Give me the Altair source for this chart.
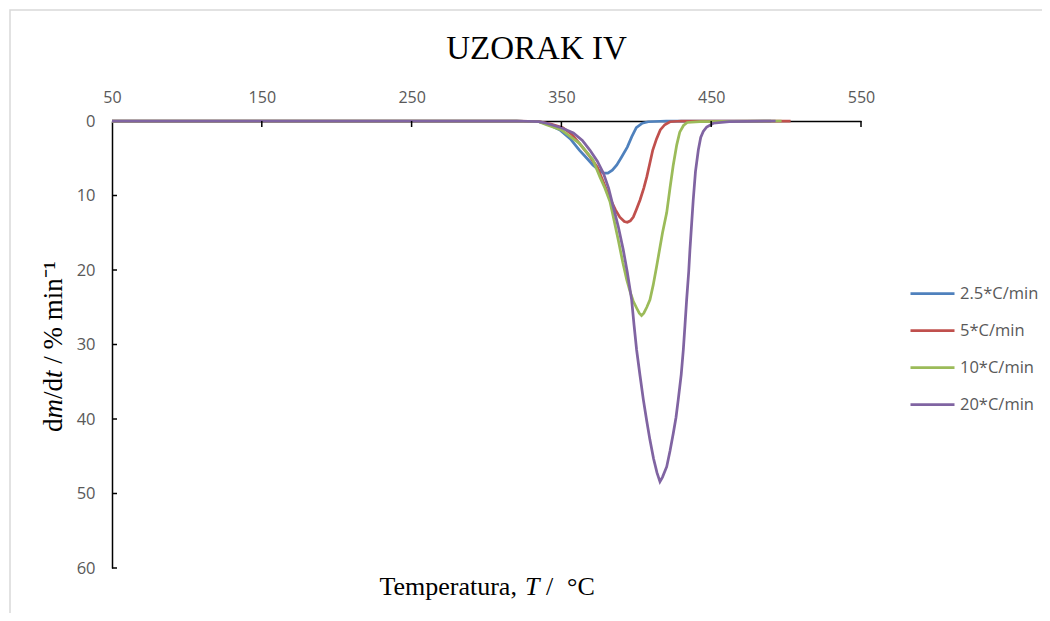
import altair as alt
import pandas as pd

series_names = ["2.5*C/min", "5*C/min", "10*C/min", "20*C/min"]
series_colors = ["#4F81BD", "#C0504D", "#9BBB59", "#8064A2"]

t_25 = [50, 150, 250, 320, 335, 342, 349, 356, 362, 367, 371, 375, 378, 381, 384, 387, 390, 394, 397, 400,
        404, 408, 420, 490]
v_25 = [0, 0, 0, 0, 0.1, 0.5, 1.2, 2.4, 3.9, 5.0, 5.9, 6.6, 7.0, 7.0, 6.6, 5.9, 4.9, 3.5, 2.1, 0.9,
        0.3, 0.1, 0, 0]

t_5 = [50, 150, 250, 320, 335, 343, 351, 357, 362, 368, 374, 378, 382, 386, 389, 392, 394, 396, 398, 400,
       402.5, 405, 407, 409, 411, 413.5, 416, 419, 422.5, 430, 503]
v_5 = [0, 0, 0, 0, 0.1, 0.4, 0.9, 1.8, 3.0, 4.5, 6.2, 8.2, 10.2, 11.9, 12.9, 13.5, 13.6, 13.4, 12.9, 11.9,
       10.6, 9.0, 7.5, 5.7, 3.9, 2.4, 1.2, 0.5, 0.1, 0, 0]

t_10 = [50, 150, 250, 320, 335, 340, 350, 362, 371, 375.7, 379, 382.4, 384.6, 388, 391, 393.6, 396, 398, 400.2, 402,
        403.5, 405, 407, 409.1, 411.3, 413.5, 417.5, 420.3, 422.5, 424.6, 427, 429, 431.5, 434, 442.5, 497]
v_10 = [0, 0, 0, 0, 0.1, 0.5, 1.2, 3.0, 5.2, 7.5, 9.0, 10.8, 12.8, 16.0, 19.0, 21.3, 23.0, 24.2, 25.1, 25.8,
        26.1, 25.8, 25.0, 24.0, 22.0, 19.6, 15.0, 12.3, 9.0, 6.0, 3.2, 1.5, 0.6, 0.2, 0.1, 0]

t_20 = [50, 150, 250, 320, 335, 340, 350, 358, 364, 369, 374, 378, 381.5, 384.6, 388, 391.3, 394, 396.9, 398.5, 400.2,
        402.5, 404.7, 407, 409.1, 411.5, 413.8, 415.8, 417.5, 420.3, 422.5, 424.7, 426.5, 428, 430, 431.4, 432.5,
        433.6, 435, 435.8, 437, 438, 439.5, 441.4, 443, 444.7, 447, 451.4, 462, 493]
v_20 = [0, 0, 0, 0, 0.1, 0.3, 0.9, 1.6, 2.6, 3.9, 5.4, 7.0, 9.0, 11.5, 14.2, 17.3, 20.3, 24.0, 27.4, 30.7,
        34.2, 37.4, 40.3, 42.8, 45.3, 47.2, 48.4, 47.8, 46.4, 44.3, 41.9, 39.8, 37.4, 34.0, 30.7, 27.4,
        24.0, 20.2, 17.3, 13.6, 10.6, 6.8, 3.9, 2.2, 1.4, 0.8, 0.3, 0.1, 0]

x_ticks = [50, 150, 250, 350, 450, 550]
y_ticks = [0, 10, 20, 30, 40, 50, 60]
x_tick_marks = [150, 250, 350, 450, 550]
y_tick_marks = [10, 20, 30, 40, 50, 60]

chart_title = "UZORAK IV"
# axis titles split into (text, italic) pieces: "Temperatura, T /  °C" and "dm/dt / % min⁻¹"
x_title_parts = [("Temperatura,", False), ("T", True), ("/", False), ("°C", False)]
y_title_parts = [("d", False), ("m", True), ("/d", False), ("t", True), ("/ % min⁻¹", False)]

rows = []
for name, ts, vs in zip(series_names, [t_25, t_5, t_10, t_20], [v_25, v_5, v_10, v_20]):
    for i, (t, v) in enumerate(zip(ts, vs)):
        rows.append({"series": name, "T": t, "v": v, "idx": i})
df = pd.DataFrame(rows)

W, H = 749, 447
GRAY = "#595959"
SERIF = "Liberation Serif"

x_scale = alt.Scale(domain=[50, 550], nice=False, zero=False)
y_scale = alt.Scale(domain=[0, 60], reverse=True, nice=False, zero=False)

x_axis = alt.Axis(orient="top", values=x_ticks, title=None, ticks=False, grid=False,
                  domainColor="black", domainWidth=1.5, labelFont="Open Sans", labelFontSize=16,
                  labelColor=GRAY, labelPadding=15.5, labelFlush=False)
y_axis = alt.Axis(orient="left", values=y_ticks, title=None, ticks=False, grid=False,
                  domainColor="black", domainWidth=1.5, labelFont="Open Sans", labelFontSize=16.5,
                  labelColor=GRAY, labelPadding=17, labelFlush=False)

x_enc = alt.X("T:Q", scale=x_scale, axis=x_axis)
y_enc = alt.Y("v:Q", scale=y_scale, axis=y_axis)

one = pd.DataFrame({"a": [0]})

frame = alt.Chart(one).mark_rect(
    fillOpacity=0, stroke="#d9d9d9", strokeWidth=1.5
).encode(x=alt.value(-102), x2=alt.value(960), y=alt.value(-111), y2=alt.value(530))

lines = alt.Chart(df).mark_line(strokeWidth=2.75).encode(
    x=x_enc,
    y=y_enc,
    color=alt.Color("series:N", scale=alt.Scale(domain=series_names, range=series_colors),
                    legend=alt.Legend(orient="none", legendX=797, legendY=149, title=None,
                                      symbolType="stroke", symbolSize=1936, symbolStrokeWidth=2.75,
                                      labelFont="Open Sans", labelFontSize=16.5, labelColor=GRAY,
                                      labelOffset=4, rowPadding=5, padding=0)),
    order="idx:Q",
)

xt = alt.Chart(pd.DataFrame({"T": x_tick_marks})).mark_rule(color="black", strokeWidth=1.5).encode(
    x=x_enc, y=alt.value(0), y2=alt.value(6))
yt = alt.Chart(pd.DataFrame({"v": y_tick_marks})).mark_rule(color="black", strokeWidth=1.5).encode(
    y=y_enc, x=alt.value(0), x2=alt.value(5))

layers = [frame, lines, xt, yt]

# x-axis title pieces (Times metrics, 26px)
XFS = 26
x_pos = [267.4, 413.0, 434.0, 455.0]
for (txt, it), px in zip(x_title_parts, x_pos):
    layers.append(alt.Chart(one).mark_text(
        text=txt, font=SERIF, fontSize=XFS, fontStyle="italic" if it else "normal",
        color="black", align="left", baseline="alphabetic"
    ).encode(x=alt.value(px), y=alt.value(474)))

# y-axis title pieces, rotated to read bottom to top (27px)
YFS = 27
y_pos = [311.0, 297.5, 278.0, 257.0, 242.75]
for (txt, it), py in zip(y_title_parts, y_pos):
    layers.append(alt.Chart(one).mark_text(
        text=txt, font=SERIF, fontSize=YFS, fontStyle="italic" if it else "normal",
        color="black", align="left", baseline="alphabetic", angle=270
    ).encode(x=alt.value(-50), y=alt.value(py)))

layers.append(alt.Chart(one).mark_text(
    text=chart_title, font=SERIF, fontSize=33, color="black",
    align="center", baseline="alphabetic"
).encode(x=alt.value(W / 2 + 50), y=alt.value(-62)))

chart = alt.layer(*layers).properties(
    width=W, height=H,
    autosize=alt.AutoSizeParams(type="none"),
    padding={"left": 104, "top": 113, "right": 181, "bottom": 45},
).configure_view(stroke=None)

chart.save("out.html", embed_options={"renderer": "svg", "actions": False})
